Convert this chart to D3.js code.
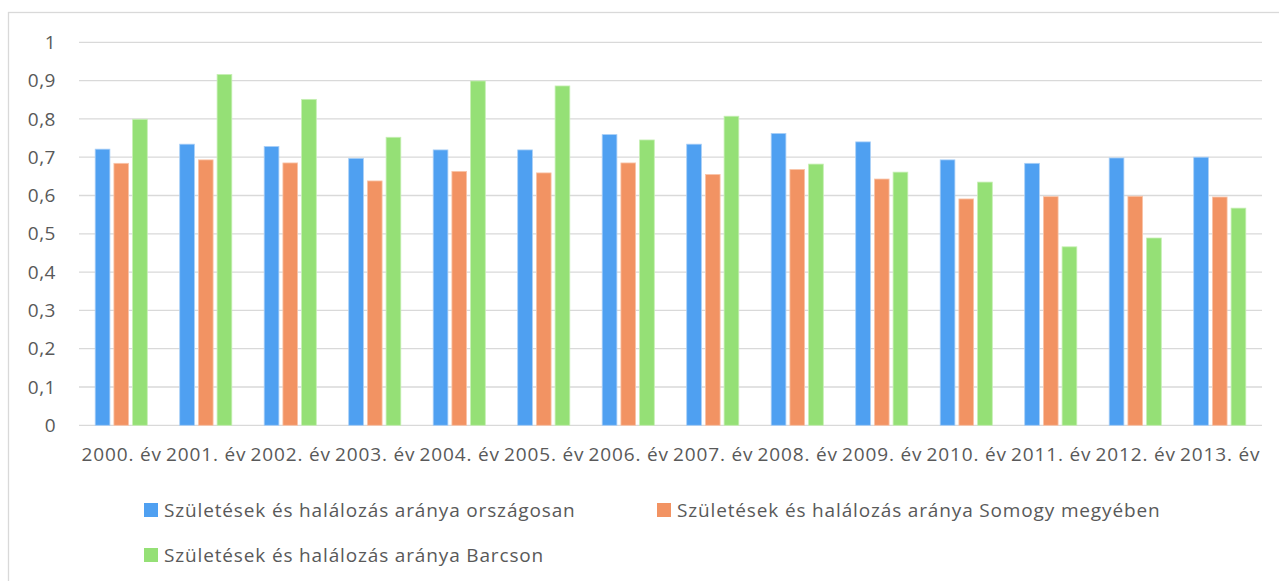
<!DOCTYPE html>
<html>
<head>
<meta charset="utf-8">
<script src="https://cdn.jsdelivr.net/npm/d3@7"></script>
<style>
body { margin: 0; background: #fff; }
text { font-family: "Open Sans", sans-serif; fill: #595959; font-size: 19px; letter-spacing: 0.85px; }
.grid line { stroke: #d9d9d9; stroke-width: 1.3; }
</style>
</head>
<body>
<svg width="1279" height="581"></svg>
<script>
var years = ["2000. év", "2001. év", "2002. év", "2003. év", "2004. év", "2005. év", "2006. év",
  "2007. év", "2008. év", "2009. év", "2010. év", "2011. év", "2012. év", "2013. év"];

var seriesNames = [
  "Születések és halálozás aránya országosan",
  "Születések és halálozás aránya Somogy megyében",
  "Születések és halálozás aránya Barcson"
];

var orszagos = [0.721, 0.734, 0.728, 0.697, 0.719, 0.719, 0.759, 0.734, 0.762, 0.740, 0.693, 0.684, 0.698, 0.700];
var somogy = [0.684, 0.693, 0.685, 0.638, 0.663, 0.659, 0.685, 0.655, 0.668, 0.643, 0.591, 0.597, 0.598, 0.596];
var barcs = [0.799, 0.916, 0.851, 0.752, 0.899, 0.886, 0.745, 0.807, 0.682, 0.661, 0.635, 0.466, 0.489, 0.567];

var yTicks = [0, 0.1, 0.2, 0.3, 0.4, 0.5, 0.6, 0.7, 0.8, 0.9, 1];

var colors = ["#4fa0f1", "#f29363", "#95e076"];
var strokes = ["#a9cff7", "#f9c5aa", "#c6efb3"];

var svg = d3.select("svg"),
    width = +svg.attr("width"),
    height = +svg.attr("height");

// chart frame
svg.append("rect")
  .attr("x", 8.5).attr("y", 12.5)
  .attr("width", width + 20).attr("height", height + 20)
  .attr("fill", "none").attr("stroke", "#d9d9d9").attr("stroke-width", 1.3);

var plotLeft = 79, plotRight = 1262, plotTop = 42.3, plotBottom = 425.3;

var x = d3.scaleBand().domain(years).range([plotLeft, plotRight]);
var y = d3.scaleLinear().domain([0, 1]).range([plotBottom, plotTop]);

var barW = x.bandwidth() * 0.174, gap = 4;

svg.append("g")
  .attr("class", "grid")
  .selectAll("line")
  .data(yTicks)
  .enter().append("line")
  .attr("x1", plotLeft).attr("x2", plotRight)
  .attr("y1", function(d) { return y(d); })
  .attr("y2", function(d) { return y(d); });

svg.append("g")
  .selectAll("text")
  .data(yTicks)
  .enter().append("text")
  .attr("x", 56)
  .attr("y", function(d) { return y(d); })
  .attr("dy", "0.35em")
  .attr("text-anchor", "end")
  .style("letter-spacing", "0.5px")
  .text(function(d) { return String(d).replace(".", ","); });

svg.append("g")
  .selectAll("text")
  .data(years)
  .enter().append("text")
  .attr("x", function(d) { return x(d) + x.bandwidth() / 2 + 0.5; })
  .attr("y", 461)
  .attr("text-anchor", "middle")
  .text(function(d) { return d; });

var series = [orszagos, somogy, barcs];
var groupW = barW * 3 + gap * 2;

series.forEach(function(vals, si) {
  svg.append("g")
    .selectAll("rect")
    .data(vals)
    .enter().append("rect")
    .attr("x", function(d, i) { return x(years[i]) + (x.bandwidth() - groupW) / 2 + si * (barW + gap); })
    .attr("y", function(d) { return y(d); })
    .attr("width", barW)
    .attr("height", function(d) { return plotBottom - y(d); })
    .attr("fill", colors[si])
    .attr("stroke", strokes[si])
    .attr("stroke-width", 0.8);
});

// legend
var legendPos = [[144, 510], [657, 510], [144, 555]];
var legend = svg.append("g")
  .selectAll("g")
  .data(seriesNames)
  .enter().append("g")
  .attr("transform", function(d, i) { return "translate(" + legendPos[i][0] + "," + legendPos[i][1] + ")"; });

legend.append("rect")
  .attr("x", 0).attr("y", -7)
  .attr("width", 14).attr("height", 14)
  .attr("fill", function(d, i) { return colors[i]; });

legend.append("text")
  .attr("x", 20)
  .attr("dy", "0.35em")
  .text(function(d) { return d; });
</script>
</body>
</html>
